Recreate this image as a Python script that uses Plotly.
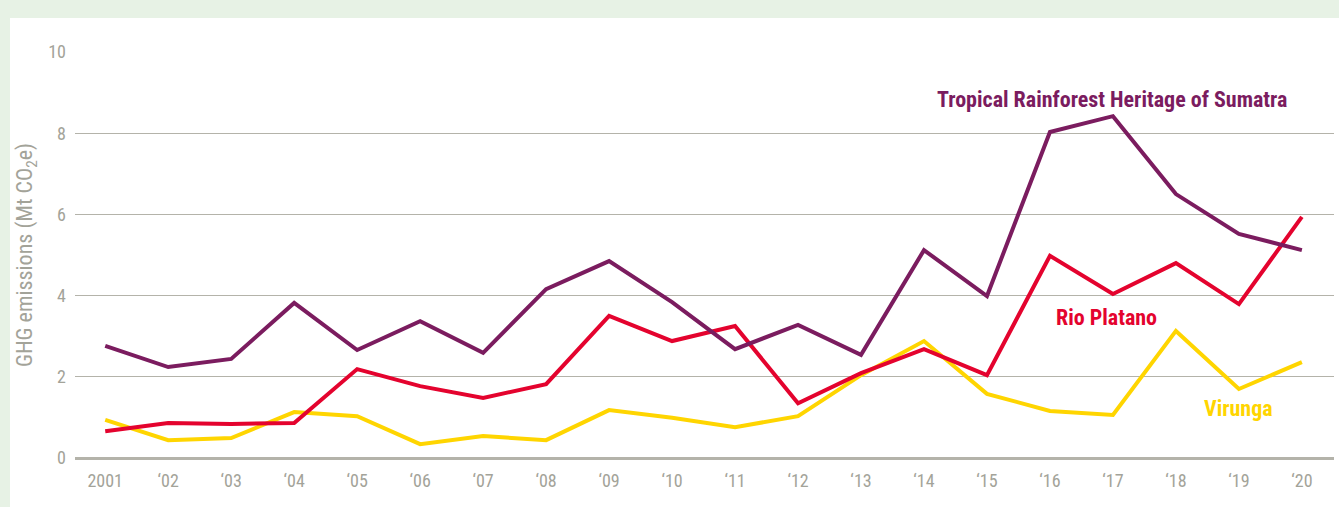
import plotly.graph_objects as go

# ------------------------------------------------------------------
# data
# ------------------------------------------------------------------
years = list(range(2001, 2021))
tick_labels = ["2001", "‘02", "‘03", "‘04", "‘05", "‘06", "‘07", "‘08", "‘09", "‘10",
               "‘11", "‘12", "‘13", "‘14", "‘15", "‘16", "‘17", "‘18", "‘19", "‘20"]

sumatra = [2.76, 2.24, 2.44, 3.82, 2.66, 3.37, 2.59, 4.16, 4.85, 3.84,
           2.68, 3.28, 2.54, 5.12, 3.99, 8.03, 8.42, 6.50, 5.52, 5.12]
rio_platano = [0.66, 0.86, 0.84, 0.86, 2.19, 1.77, 1.48, 1.82, 3.50, 2.88,
               3.25, 1.35, 2.09, 2.68, 2.04, 4.98, 4.04, 4.80, 3.79, 5.94]
virunga = [0.94, 0.44, 0.49, 1.13, 1.03, 0.34, 0.54, 0.44, 1.18, 0.99,
           0.76, 1.03, 2.04, 2.88, 1.58, 1.16, 1.06, 3.13, 1.70, 2.36]

PURPLE = "#7b1c5f"
RED = "#e4032e"
YELLOW = "#ffd500"
GREY_TXT = "#a3a399"
GRID = "#b4b3aa"
FONT = "Roboto Condensed, Liberation Sans Narrow, Roboto, sans-serif"

fig = go.Figure()

# draw order: yellow at the back, purple on top
for name, vals, col in [("Virunga", virunga, YELLOW),
                        ("Rio Platano", rio_platano, RED),
                        ("Tropical Rainforest Heritage of Sumatra", sumatra, PURPLE)]:
    fig.add_trace(go.Scatter(
        x=years, y=vals, name=name, mode="lines",
        line=dict(color=col, width=4),
        hovertemplate=name + "<br>%{x}: %{y:.2f}<extra></extra>",
    ))

# series labels
fig.add_annotation(x=2016.98, y=8.84, text="<b>Tropical Rainforest Heritage of Sumatra</b>",
                   showarrow=False, font=dict(color=PURPLE, size=22, family=FONT))
fig.add_annotation(x=2016.9, y=3.47, text="<b>Rio Platano</b>",
                   showarrow=False, font=dict(color=RED, size=22, family=FONT))
fig.add_annotation(x=2019.0, y=1.23, text="<b>Virunga</b>",
                   showarrow=False, font=dict(color=YELLOW, size=22, family=FONT))

# white panel on the pale-green page
fig.add_shape(type="rect", xref="paper", yref="paper",
              x0=-65 / 1259, x1=1.2, y0=-0.3, y1=440 / 406,
              fillcolor="white", line_width=0, layer="below")

fig.update_layout(
    width=1339, height=507,
    paper_bgcolor="#e7f2e5",
    plot_bgcolor="rgba(0,0,0,0)",
    margin=dict(l=75, r=5, t=52, b=49),
    showlegend=False,
    font=dict(family=FONT, color=GREY_TXT, size=18),
    xaxis=dict(
        range=[2000.52, 2020.51],
        tickmode="array", tickvals=years, ticktext=tick_labels,
        showgrid=False, zeroline=False, showline=False,
        ticks="", ticklabelstandoff=10,
        tickfont=dict(size=18, color=GREY_TXT),
    ),
    yaxis=dict(
        range=[0, 10], tickvals=[0, 2, 4, 6, 8, 10],
        showgrid=True, gridcolor=GRID, gridwidth=1,
        zeroline=True, zerolinecolor=GRID, zerolinewidth=2.5,
        showline=False, ticks="", ticklabelstandoff=8,
        tickfont=dict(size=18, color=GREY_TXT),
        title=dict(text="GHG emissions (Mt CO<sub>2</sub>e)", standoff=9,
                   font=dict(size=22, color=GREY_TXT)),
    ),
)

# remove the default page margin so the figure sits at the window's corner
fig.write_html("out.html", config={"displayModeBar": False},
               post_script="document.body.style.margin='0';")
